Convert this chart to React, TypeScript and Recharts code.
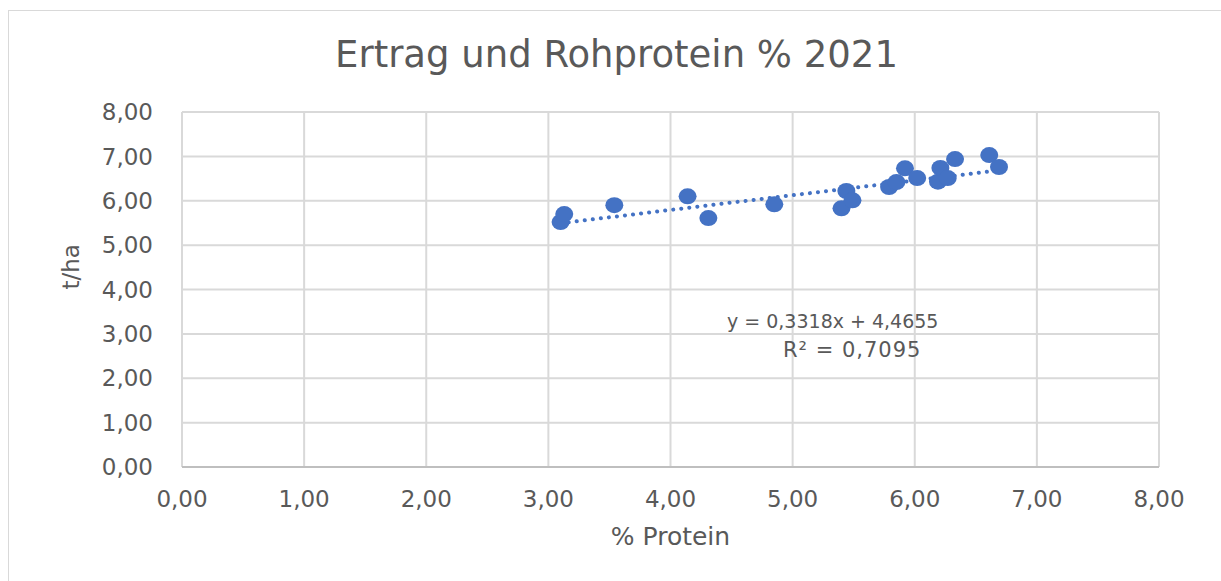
import { ScatterChart, Scatter, XAxis, YAxis, CartesianGrid } from 'recharts';

const proteinValues = [3.10, 3.13, 3.54, 4.14, 4.31, 4.85, 5.40, 5.44, 5.49, 5.79, 5.85, 5.92, 6.02, 6.19, 6.21, 6.27, 6.33, 6.61, 6.69];
const yieldValues = [5.52, 5.70, 5.90, 6.10, 5.61, 5.92, 5.83, 6.22, 6.01, 6.31, 6.42, 6.73, 6.51, 6.43, 6.74, 6.51, 6.94, 7.03, 6.76];
const axisTicks = [0, 1, 2, 3, 4, 5, 6, 7, 8];
const trendSlope = 0.3318;
const trendIntercept = 4.4655;
const trendR2 = 0.7095;

const points = proteinValues.map((x, i) => ({ x, y: yieldValues[i] }));
const xMin = Math.min(...proteinValues);
const xMax = Math.max(...proteinValues);
const trend = [xMin, xMax].map((x) => ({ x, y: trendSlope * x + trendIntercept }));

const fmt = (v: number, d = 2) => v.toFixed(d).replace('.', ',');

const font = '"DejaVu Sans", sans-serif';
const grey = '#595959';

const Dot = (props: any) => {
  const { cx, cy } = props;
  return <ellipse cx={cx} cy={cy} rx={9} ry={8} fill="#4472c4" />;
};

const App = () => {
  return (
    <div style={{ position: 'absolute', left: 0, top: 0, width: 1221, height: 581, background: '#fff', fontFamily: font }}>
      <div style={{ position: 'absolute', left: 8, top: 10, width: 1220, height: 575, border: '1.5px solid #d9d9d9', boxSizing: 'border-box' }} />
      <div style={{ position: 'absolute', left: 0, width: 1233, top: 33, textAlign: 'center', fontSize: 37, color: grey, lineHeight: '44px' }}>
        Ertrag und Rohprotein % 2021
      </div>
      <ScatterChart width={1221} height={581} margin={{ top: 112, right: 62, left: 82, bottom: 34 }} style={{ position: 'absolute', left: 0, top: 0 }}>
        <CartesianGrid stroke="#d9d9d9" strokeWidth={2} />
        <XAxis
          type="number"
          dataKey="x"
          domain={[0, 8]}
          ticks={axisTicks}
          tickFormatter={(v) => fmt(v)}
          tickLine={false}
          axisLine={{ stroke: '#bfbfbf', strokeWidth: 2 }}
          tick={{ fill: grey, fontSize: 23, fontFamily: font }}
          tickMargin={18}
          height={80}
          label={{ value: '% Protein', position: 'insideBottom', offset: 2, fill: grey, fontSize: 25, fontFamily: font }}
        />
        <YAxis
          type="number"
          dataKey="y"
          domain={[0, 8]}
          ticks={axisTicks}
          tickFormatter={(v) => fmt(v)}
          tickLine={false}
          axisLine={false}
          tick={{ fill: grey, fontSize: 23, fontFamily: font }}
          tickMargin={23}
          width={100}
          label={{ value: 't/ha', angle: -90, position: 'insideLeft', offset: 0, dx: -11, fill: grey, fontSize: 23, fontFamily: font }}
        />
        <Scatter
          data={trend}
          line={{ stroke: '#4472c4', strokeWidth: 4, strokeDasharray: '0.1 8', strokeLinecap: 'round' }}
          shape={() => <g />}
          isAnimationActive={false}
        />
        <Scatter data={points} shape={Dot} isAnimationActive={false} />
      </ScatterChart>
      <div style={{ position: 'absolute', left: 727, top: 308, fontSize: 19, color: grey, lineHeight: '26px', whiteSpace: 'nowrap' }}>
        {`y = ${fmt(trendSlope, 4)}x + ${fmt(trendIntercept, 4)}`}
      </div>
      <div style={{ position: 'absolute', left: 783, top: 337, fontSize: 21, letterSpacing: 1, color: grey, lineHeight: '26px', whiteSpace: 'nowrap' }}>
        {`R² = ${fmt(trendR2, 4)}`}
      </div>
    </div>
  );
};

export default App;
